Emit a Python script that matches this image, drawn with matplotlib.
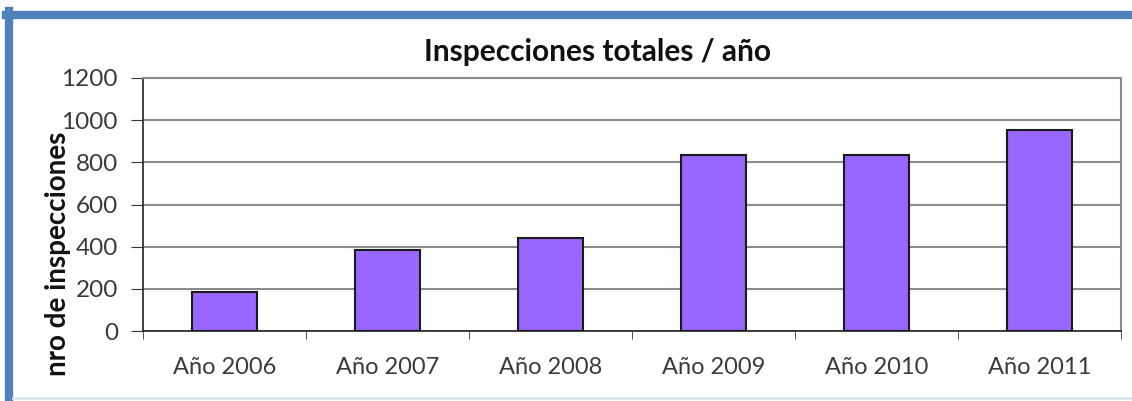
import matplotlib
matplotlib.use("Agg")
import matplotlib.pyplot as plt
from matplotlib.lines import Line2D

years = ["Año 2006", "Año 2007", "Año 2008", "Año 2009", "Año 2010", "Año 2011"]
inspecciones = [185, 385, 440, 835, 835, 955]
yticks = [0, 200, 400, 600, 800, 1000, 1200]

plt.rcParams['font.family'] = ['Lato', 'DejaVu Sans']

W, H = 1132, 401
fig = plt.figure(figsize=(W / 100, H / 100), dpi=100)
ax = fig.add_axes([143/W, 1 - 331/H, (1121-143)/W, (331-78)/H])

x = list(range(len(years)))
ax.bar(x, inspecciones, width=0.4, color="#9966FF", edgecolor="#1a1a1a", linewidth=1.5, zorder=3)

ax.set_xlim(-0.5, len(years) - 0.5)
ax.set_ylim(0, 1200)
ax.set_yticks(yticks)
ax.set_yticklabels([str(v) for v in yticks], fontsize=17.5, color="#3a3a3a")
ax.yaxis.grid(True, color="#8c8c8c", linewidth=1.5, zorder=0)

ax.set_xticks(x)
ax.set_xticklabels(years, fontsize=17, color="#3a3a3a")
ax.tick_params(axis='x', length=0, pad=19)
ax.set_xticks([i + 0.5 for i in range(-1, len(years))], minor=True)
ax.tick_params(axis='x', which='minor', length=6, direction='out', color="#333333")
ax.tick_params(axis='y', length=9, direction='out', color="#333333", pad=9)

for s in ['left', 'bottom']:
    ax.spines[s].set_color("#333333")
    ax.spines[s].set_linewidth(1.3)
for s in ['top', 'right']:
    ax.spines[s].set_color("#8c8c8c")
    ax.spines[s].set_linewidth(1.5)

fig.text(597/W, 1 - 52/H, "Inspecciones totales / año", fontsize=21.5, fontweight='bold',
         ha='center', va='center', color="#111111")
fig.text(58/W, 1 - 254/H, "nro de inspecciones", fontsize=20, fontweight='bold',
         rotation=90, ha='center', va='center', color="#111111")

# blue frame around the chart (cropped on right/bottom)
fig.add_artist(Line2D([9/W, 9/W], [0, 1 - 11/H], transform=fig.transFigure, color="#4F81BD", linewidth=6))
fig.add_artist(Line2D([6/W, 1], [1 - 15/H, 1 - 15/H], transform=fig.transFigure, color="#4F81BD", linewidth=6))
fig.add_artist(Line2D([13/W, 1], [1 - 398/H, 1 - 398/H], transform=fig.transFigure, color="#dbe5f1", linewidth=2))

fig.savefig("out.png", dpi=100)
